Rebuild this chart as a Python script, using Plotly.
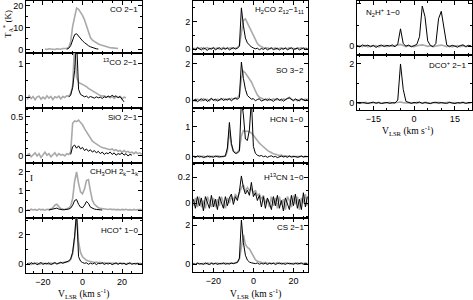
import plotly.graph_objects as go

W, H = 473, 300
GRAY = '#a9a9a9'
BLACK = '#000000'

# ---------------- velocity channel grids (km/s) ----------------
V_LEFT = list(range(-28, 31))
V_MID = list(range(-30, 28))
V_RIGHT = list(range(-21, 22))

# ---------------- left column ----------------
co_gray_v = list(range(-19, 19))
co_gray = [0.3, 0.1, 0.4, 0.2, 0.3, 0.1, 0.4, 0.3, 0.2, 0.5, 0.4, 0.6, 1.0, 3.5, 10.5, 15.5, 18.8, 18.2, 17.0, 15.5,
           13.5, 11.0, 7.5, 5.5, 4.3, 3.6, 3.0, 2.6, 2.2, 1.9, 1.6, 1.3, 1.1, 0.9, 0.8, 0.6, 0.7, 0.5]
co_black_v = list(range(-8, 9))
co_black = [0.2, 0.6, 1.8, 4.5, 6.8, 7.2, 6.0, 5.0, 4.0, 3.2, 2.4, 1.8, 1.3, 0.9, 0.6, 0.4, 0.3]

c13o_gray_v = list(range(-28, 23))
c13o_gray = [-0.05, 0.06, -0.02, 0.04, -0.06, 0.03, 0.05, -0.04, 0.02, -0.03,
             0.06, -0.01, 0.04, -0.05, 0.03, 0.0, 0.05, -0.03, 0.04, 0.01,
             0.06, 0.05, 0.12, 0.35, 1.6, 0.6, 0.45, 0.42, 0.4, 0.37,
             0.33, 0.28, 0.24, 0.2, 0.16, 0.12, 0.1, 0.07, 0.05, 0.06,
             0.02, 0.04, 0.0, 0.04, -0.02, 0.03, 0.01, 0.04, -0.03, 0.02,
             0.0]
c13o_black_v = list(range(-7, 22))
c13o_black = [0.02, 0.08, 0.3, 0.8, 1.7, 0.25, 0.1, 0.06, 0.03, 0.05,
              0.0, 0.04, 0.02, -0.01, 0.03, 0.0, 0.02, -0.02, 0.03, 0.01,
              0.05, 0.02, 0.08, 0.03, 0.06, 0.0, 0.04, -0.05, -0.12]

sio_gray = [0.01, 0.03, -0.01, 0.02, 0.04, 0.0, 0.03, -0.02, 0.02, 0.05,
            0.01, 0.03, -0.01, 0.02, 0.04, 0.0, 0.03, 0.01, 0.02, 0.0,
            0.03, 0.02, 0.05, 0.42, 0.45, 0.44, 0.46, 0.43, 0.4, 0.35,
            0.31, 0.26, 0.22, 0.19, 0.17, 0.15, 0.13, 0.12, 0.11, 0.1,
            0.1, 0.09, 0.08, 0.09, 0.07, 0.08, 0.06, 0.07, 0.05, 0.07,
            0.05, 0.06, 0.04, 0.05, 0.03, 0.05, 0.03, 0.04, 0.02]
sio_black_v = list(range(-6, 26))
sio_black = [0.02, 0.12, 0.14, 0.1, 0.13, 0.09, 0.11, 0.07, 0.09, 0.06,
             0.08, 0.05, 0.07, 0.04, 0.06, 0.03, 0.05, 0.02, 0.04, 0.03,
             0.05, 0.02, 0.04, 0.01, 0.03, 0.02, 0.04, 0.01, 0.03, 0.0,
             0.02, 0.01]

ch3oh_gray = [0.02, -0.03, 0.04, 0.0, 0.03, -0.02, 0.05, 0.01, 0.03, -0.01,
              0.04, 0.02, 0.06, 0.12, 0.25, 0.3, 0.18, 0.08, 0.05, 0.03,
              0.06, 0.1, 0.2, 0.6, 1.5, 2.0, 1.4, 0.95, 0.85, 1.1,
              1.55, 1.6, 1.0, 0.5, 0.3, 0.18, 0.12, 0.09, 0.07, 0.05,
              0.06, 0.03, 0.05, 0.02, 0.04, 0.01, 0.03, 0.0, 0.03, 0.01,
              0.04, 0.0, 0.02, -0.01, 0.03, 0.0, 0.02, 0.01, 0.02]
ch3oh_black_v = list(range(-17, 11))
ch3oh_black = [0.0, 0.02, 0.04, 0.08, 0.1, 0.05, 0.02, 0.01, 0.02, 0.03,
               0.05, 0.1, 0.25, 0.5, 0.55, 0.3, 0.15, 0.12, 0.25, 0.45,
               0.35, 0.15, 0.08, 0.05, 0.03, 0.02, 0.01, 0.0]

hco_black = [0.05, -0.05, 0.1, 0.0, 0.08, -0.06, 0.04, 0.1, -0.03, 0.06,
             0.0, 0.09, -0.04, 0.05, 0.1, 0.0, 0.07, 0.12, 0.05, 0.1,
             0.15, 0.2, 0.35, 0.8, 1.9, 3.6, 0.5, 0.2, 0.1, 0.05,
             0.08, -0.02, 0.06, 0.0, 0.07, -0.04, 0.05, 0.02, 0.08, -0.03,
             0.04, 0.0, 0.06, -0.05, 0.03, 0.07, -0.02, 0.05, 0.0, 0.06,
             -0.04, 0.03, 0.08, -0.02, 0.04, 0.0, 0.06, -0.03, 0.02]
hco_gray = [0.0, 0.06, -0.03, 0.05, 0.02, 0.08, -0.02, 0.04, 0.07, 0.01,
            0.05, -0.02, 0.06, 0.03, 0.07, 0.02, 0.05, 0.08, 0.06, 0.1,
            0.12, 0.18, 0.3, 0.7, 1.8, 3.5, 1.5, 0.8, 0.5, 0.36,
            0.26, 0.2, 0.16, 0.12, 0.1, 0.13, 0.08, 0.11, 0.06, 0.09,
            0.05, 0.08, 0.04, 0.07, 0.03, 0.06, 0.02, 0.07, 0.04, 0.06,
            0.01, 0.05, 0.03, 0.06, 0.02, 0.05, 0.0, 0.04, 0.02]

# ---------------- middle column ----------------
h2co_black = [0.05, -0.08, 0.1, 0.0, -0.06, 0.08, 0.02, -0.1, 0.06, 0.0,
              0.09, -0.05, 0.03, 0.1, -0.04, 0.05, 0.0, 0.08, -0.06, 0.04,
              0.1, 0.0, 0.06, 0.2, 3.0, 1.7, 0.8, 0.45, 0.3, 0.15,
              0.08, 0.02, 0.06, -0.05, 0.04, -0.02, 0.07, -0.06, 0.03, 0.08,
              -0.04, 0.02, 0.06, -0.07, 0.03, 0.0, 0.07, -0.05, 0.04, 0.09,
              -0.03, 0.02, 0.06, -0.06, 0.03, 0.08, -0.02, 0.04]
h2co_gray = [0.08, 0.0, 0.12, 0.04, 0.1, -0.02, 0.07, 0.11, 0.0, 0.06,
             0.1, 0.03, 0.09, -0.01, 0.06, 0.12, 0.02, 0.08, 0.05, 0.1,
             0.03, 0.08, 0.12, 0.25, 1.3, 2.1, 2.2, 1.9, 1.65, 1.3,
             0.95, 0.65, 0.4, 0.25, 0.15, 0.1, 0.06, 0.09, 0.02, 0.07,
             0.04, 0.08, 0.0, 0.06, 0.09, 0.02, 0.07, 0.03, 0.1, 0.04,
             0.06, 0.0, 0.08, 0.05, 0.1, 0.03, 0.07, 0.02]

so_black = [-0.05, 0.06, -0.1, 0.02, 0.08, -0.04, 0.05, -0.08, 0.03, 0.1,
            -0.02, 0.06, -0.06, 0.04, 0.09, -0.03, 0.05, 0.0, 0.08, -0.05,
            0.06, 0.1, 0.04, 0.15, 2.1, 1.2, 0.6, 0.25, 0.12, 0.05,
            0.08, -0.04, 0.03, 0.07, -0.06, 0.02, 0.05, -0.03, 0.06, 0.0,
            -0.07, 0.04, 0.08, -0.02, 0.05, -0.06, 0.03, 0.09, 0.12, 0.02,
            -0.04, 0.06, 0.0, -0.05, 0.07, 0.02, -0.03, 0.05]
so_gray = [0.02, -0.06, 0.05, 0.0, -0.04, 0.07, 0.01, 0.04, -0.05, 0.06,
           0.02, -0.03, 0.05, 0.0, 0.04, 0.08, 0.01, 0.06, 0.03, 0.09,
           0.05, 0.12, 0.1, 0.3, 1.2, 1.6, 1.5, 1.35, 1.2, 1.0,
           0.75, 0.48, 0.28, 0.15, 0.08, 0.05, 0.02, 0.06, -0.02, 0.04,
           0.07, 0.0, 0.05, 0.02, -0.03, 0.06, 0.03, 0.08, 0.15, 0.05,
           0.0, 0.04, -0.04, 0.03, 0.06, 0.0, 0.05, 0.02]

hcn_black = [0.02, -0.01, 0.03, 0.0, 0.02, -0.02, 0.01, 0.03, 0.0, 0.02,
             -0.01, 0.03, 0.01, 0.0, 0.02, 0.01, 0.04, 0.3, 1.15, 0.45,
             0.18, 0.12, 0.13, 0.2, 1.9, 1.4, 0.6, 0.55, 0.9, 1.9,
             0.35, 0.12, 0.06, 0.03, 0.05, 0.01, 0.03, -0.01, 0.02, 0.04,
             0.0, 0.02, -0.02, 0.01, 0.03, 0.0, 0.02, -0.01, 0.03, 0.0,
             0.01, 0.02, -0.01, 0.01, 0.03, 0.0, 0.02, 0.01]
hcn_gray = [0.03, 0.0, 0.02, 0.04, 0.01, 0.03, -0.01, 0.02, 0.04, 0.0,
            0.03, 0.01, 0.04, 0.02, 0.0, 0.03, 0.03, 0.2, 0.9, 0.4,
            0.2, 0.15, 0.16, 0.25, 0.7, 0.88, 0.85, 0.86, 0.84, 0.8,
            0.72, 0.62, 0.53, 0.46, 0.4, 0.33, 0.27, 0.22, 0.18, 0.14,
            0.11, 0.09, 0.07, 0.05, 0.06, 0.03, 0.04, 0.02, 0.03, 0.01,
            0.03, 0.0, 0.02, 0.01, 0.03, 0.0, 0.02, 0.01]

h13cn_black = [0.03, -0.04, 0.05, -0.02, 0.04, -0.06, 0.05, 0.0, -0.04, 0.06,
               -0.03, 0.03, -0.05, 0.05, 0.01, -0.04, 0.05, -0.02, 0.04, 0.07,
               -0.01, 0.05, 0.02, 0.09, 0.21, 0.12, 0.07, 0.1, 0.06, 0.16,
               0.05, 0.08, 0.02, 0.06, -0.03, 0.05, -0.04, 0.04, 0.0, -0.05,
               0.05, -0.02, 0.06, -0.04, 0.02, -0.06, 0.04, 0.0, -0.05, 0.06,
               -0.02, 0.07, -0.04, 0.03, -0.05, 0.08, -0.03, 0.05]
h13cn_gray = [-0.02, 0.04, -0.03, 0.05, -0.03, 0.02, -0.04, 0.05, 0.01, -0.03,
              0.04, -0.03, 0.03, -0.02, 0.05, 0.0, -0.04, 0.04, 0.0, 0.05,
              0.02, 0.07, 0.04, 0.08, 0.12, 0.14, 0.09, 0.12, 0.1, 0.11,
              0.08, 0.1, 0.06, 0.07, 0.03, 0.06, 0.0, 0.03, -0.03, 0.05,
              -0.02, 0.04, -0.04, 0.05, -0.01, 0.03, -0.05, 0.05, 0.02, -0.03,
              0.06, -0.01, 0.05, -0.05, 0.04, 0.0, 0.07, -0.02]

cs_black = [0.02, -0.03, 0.04, 0.0, 0.03, -0.02, 0.05, 0.01, -0.03, 0.03,
            0.0, 0.04, -0.02, 0.03, 0.01, 0.05, -0.01, 0.03, 0.0, 0.04,
            0.02, 0.05, 0.08, 0.3, 2.25, 1.1, 0.45, 0.2, 0.1, 0.06,
            0.04, 0.02, 0.05, -0.01, 0.03, 0.0, 0.04, -0.02, 0.03, 0.01,
            0.04, -0.02, 0.02, 0.05, 0.0, 0.03, -0.02, 0.04, 0.01, 0.03,
            -0.01, 0.04, 0.0, 0.02, 0.05, -0.01, 0.03, 0.01]
cs_gray = [0.04, 0.0, 0.05, 0.02, -0.01, 0.04, 0.01, 0.05, 0.02, 0.06,
           0.01, 0.03, 0.05, 0.0, 0.04, 0.02, 0.05, 0.01, 0.04, 0.06,
           0.03, 0.07, 0.1, 0.25, 1.0, 1.5, 1.0, 0.85, 0.78, 0.6,
           0.38, 0.22, 0.14, 0.1, 0.07, 0.05, 0.08, 0.03, 0.06, 0.02,
           0.05, 0.03, 0.07, 0.02, 0.05, 0.01, 0.06, 0.03, 0.05, 0.0,
           0.04, 0.02, 0.06, 0.01, 0.04, 0.02, 0.05, 0.03]

# ---------------- right column ----------------
n2h_black = [0.03, -0.04, 0.06, 0.0, 0.05, -0.03, 0.04, -0.06, 0.02, 0.05,
             -0.02, 0.04, 0.0, 0.06, -0.03, 0.1, 0.82, 0.12, 0.0, 0.05,
             -0.03, 0.04, 0.08, 0.45, 1.9, 1.4, 0.25, 0.03, -0.02, 0.12,
             1.3, 1.65, 0.75, 0.06, -0.03, 0.04, 0.0, -0.05, 0.03, 0.06,
             -0.02, 0.04, 0.0]
n2h_gray = [0.0, 0.03, -0.02, 0.04, -0.03, 0.02, 0.0, 0.03, -0.04, 0.01,
            0.04, -0.02, 0.03, -0.01, 0.02, 0.05, 0.08, 0.03, -0.02, 0.02,
            0.0, -0.03, 0.02, 0.04, 0.06, 0.03, -0.01, 0.02, -0.03, 0.01,
            0.04, 0.05, 0.02, -0.02, 0.03, -0.04, 0.01, 0.03, -0.02, 0.02,
            -0.03, 0.01, 0.02]
dco_black = [0.02, -0.02, 0.03, 0.0, -0.03, 0.02, 0.04, -0.01, 0.02, -0.03,
             0.01, 0.03, -0.02, 0.02, 0.0, 0.15, 2.0, 0.7, 0.08, 0.02,
             -0.02, 0.03, 0.0, 0.05, -0.02, 0.02, 0.0, -0.03, 0.02, 0.04,
             -0.01, 0.02, 0.0, -0.02, 0.03, 0.01, -0.03, 0.02, 0.0, 0.03,
             -0.02, 0.01, 0.02]
dco_gray = [0.0, 0.02, -0.01, 0.03, 0.01, -0.02, 0.02, 0.0, 0.03, -0.01,
            0.02, 0.0, 0.03, -0.02, 0.01, 0.03, 0.05, 0.02, 0.0, 0.02,
            0.01, -0.01, 0.03, 0.02, 0.0, 0.04, 0.01, -0.02, 0.02, 0.0,
            0.03, 0.01, -0.01, 0.02, 0.04, 0.0, 0.02, -0.02, 0.01, 0.03,
            0.0, 0.02, 0.01]

# ---------------- layout geometry (pixels) ----------------
COLS = {
    'L': dict(x0=26, x1=142, xr=[-28.6, 30.1], dt=20,
              rows=[(1, 53), (53, 108), (108, 163), (163, 218), (218, 273)]),
    'M': dict(x0=193, x1=308, xr=[-30.2, 27.3], dt=20,
              rows=[(1, 54), (54, 108), (108, 163), (163, 218), (218, 272)]),
    'R': dict(x0=357, x1=472, xr=[-21, 21.3], dt=15,
              rows=[(1, 55), (55, 110)]),
}

panels = [
    dict(col='L', row=0, label='CO 2−1', lx=140, ly=10, anchor='right',
         gv=co_gray_v, g=co_gray, bv=co_black_v, b=co_black, yr=[-1.5, 22], ydt=10, ymn=5),
    dict(col='L', row=1, label='<sup>13</sup>CO 2−1', lx=140, ly=62, anchor='right',
         gv=c13o_gray_v, g=c13o_gray, bv=c13o_black_v, b=c13o_black, yr=[-0.3, 1.32], ydt=1, ymn=0.5),
    dict(col='L', row=2, label='SiO 2−1', lx=140, ly=117, anchor='right',
         gv=V_LEFT, g=sio_gray, bv=sio_black_v, b=sio_black, yr=[-0.09, 0.615], ydt=0.5, ymn=0.1),
    dict(col='L', row=3, label='CH<sub>3</sub>OH 2<sub>k</sub>−1<sub>k</sub>', lx=140, ly=172, anchor='right',
         gv=V_LEFT, g=ch3oh_gray, bv=ch3oh_black_v, b=ch3oh_black, yr=[-0.42, 2.47], ydt=1, ymn=0.5),
    dict(col='L', row=4, label='HCO<sup>+</sup> 1−0', lx=140, ly=230, anchor='right',
         gv=V_LEFT, g=hco_gray, bv=V_LEFT, b=hco_black, yr=[-0.62, 3.17], ydt=2, ymn=1),
    dict(col='M', row=0, label='H<sub>2</sub>CO 2<sub>12</sub>−1<sub>11</sub>', lx=306, ly=10, anchor='right',
         gv=V_MID, g=h2co_gray, bv=V_MID, b=h2co_black, yr=[-0.36, 3.5], ydt=2, ymn=1),
    dict(col='M', row=1, label='SO 3−2', lx=306, ly=70, anchor='right',
         gv=V_MID, g=so_gray, bv=V_MID, b=so_black, yr=[-0.44, 2.55], ydt=2, ymn=1),
    dict(col='M', row=2, label='HCN 1−0', lx=306, ly=119, anchor='right',
         gv=V_MID, g=hcn_gray, bv=V_MID, b=hcn_black, yr=[-0.2, 1.63], ydt=1, ymn=0.5),
    dict(col='M', row=3, label='H<sup>13</sup>CN 1−0', lx=306, ly=177, anchor='right',
         gv=V_MID, g=h13cn_gray, bv=V_MID, b=h13cn_black, yr=[-0.115, 0.31], ydt=0.2, ymn=0.1),
    dict(col='M', row=4, label='CS 2−1', lx=306, ly=227, anchor='right',
         gv=V_MID, g=cs_gray, bv=V_MID, b=cs_black, yr=[-0.41, 2.36], ydt=2, ymn=1),
    dict(col='R', row=0, label='N<sub>2</sub>H<sup>+</sup> 1−0', lx=364, ly=12, anchor='left',
         gv=V_RIGHT, g=n2h_gray, bv=V_RIGHT, b=n2h_black, yr=[-0.42, 2.14], ydt=2, ymn=1),
    dict(col='R', row=1, label='DCO<sup>+</sup> 2−1', lx=468, ly=65, anchor='right',
         gv=V_RIGHT, g=dco_gray, bv=V_RIGHT, b=dco_black, yr=[-0.36, 2.46], ydt=2, ymn=1),
]

TICKFONT = dict(family='Liberation Sans, Arial, sans-serif', size=9, color='black')
LABFONT = dict(family='Liberation Sans, Arial, sans-serif', size=8, color='black')
SERIF = dict(family='Liberation Serif, Times New Roman, serif', size=9.5, color='black')

fig = go.Figure()
layout = dict(template='none', width=W, height=H, autosize=False,
              margin=dict(l=0, r=0, t=0, b=0, pad=0),
              paper_bgcolor='white', plot_bgcolor='white', showlegend=False)
annotations = []

for i, p in enumerate(panels, start=1):
    c = COLS[p['col']]
    y0, y1 = c['rows'][p['row']]
    bottom = p['row'] == len(c['rows']) - 1
    sfx = '' if i == 1 else str(i)
    xa = dict(domain=[c['x0'] / W, c['x1'] / W], range=c['xr'], anchor='y' + sfx, automargin=False,
              showline=True, linecolor='black', linewidth=1, mirror='ticks',
              ticks='inside', ticklen=4, tickcolor='black', tickwidth=1,
              dtick=c['dt'], tick0=0, showgrid=False, zeroline=False,
              showticklabels=bottom, tickfont=TICKFONT,
              minor=dict(dtick=5, tick0=0, ticks='inside', ticklen=2, tickcolor='black', showgrid=False))
    ya = dict(domain=[1 - y1 / H, 1 - y0 / H], range=p['yr'], anchor='x' + sfx, automargin=False,
              showline=True, linecolor='black', linewidth=1, mirror='ticks',
              ticks='inside', ticklen=4, tickcolor='black', tickwidth=1,
              dtick=p['ydt'], tick0=0, showgrid=False, zeroline=False,
              tickfont=TICKFONT,
              minor=dict(dtick=p['ymn'], tick0=0, ticks='inside', ticklen=2, tickcolor='black', showgrid=False))
    layout['xaxis' + sfx] = xa
    layout['yaxis' + sfx] = ya
    fig.add_trace(go.Scatter(x=p['gv'], y=p['g'], mode='lines', xaxis='x' + sfx, yaxis='y' + sfx,
                             line=dict(color=GRAY, width=1.6), hoverinfo='skip'))
    fig.add_trace(go.Scatter(x=p['bv'], y=p['b'], mode='lines', xaxis='x' + sfx, yaxis='y' + sfx,
                             line=dict(color=BLACK, width=1), hoverinfo='skip'))
    annotations.append(dict(text=p['label'], x=p['lx'] / W, y=1 - p['ly'] / H, xref='paper', yref='paper',
                            xanchor=p['anchor'], yanchor='middle', showarrow=False, font=LABFONT))

# axis titles
annotations.append(dict(text='T<sub>A</sub><sup>*</sup> (K)', x=8 / W, y=1 - 24 / H, xref='paper', yref='paper',
                        xanchor='center', yanchor='middle',
                        textangle=-90, showarrow=False, font=dict(SERIF, size=9)))
for xc, yc in [(84, 293), (256, 293), (408, 130)]:
    annotations.append(dict(text='V<sub>LSR</sub> (km s<sup>-1</sup>)', x=xc / W, y=1 - yc / H,
                            xref='paper', yref='paper', xanchor='center', yanchor='middle',
                            showarrow=False, font=SERIF))
# calibration error bar marker in CH3OH panel
annotations.append(dict(text='I', x=31 / W, y=1 - 178 / H, xref='paper', yref='paper',
                        xanchor='center', yanchor='middle',
                        showarrow=False, font=dict(SERIF, size=9)))

layout['annotations'] = annotations
fig.update_layout(**layout)
fig.write_html('out.html', config={'displayModeBar': False, 'responsive': False},
               post_script="document.body.style.margin='0';document.body.style.padding='0';")
